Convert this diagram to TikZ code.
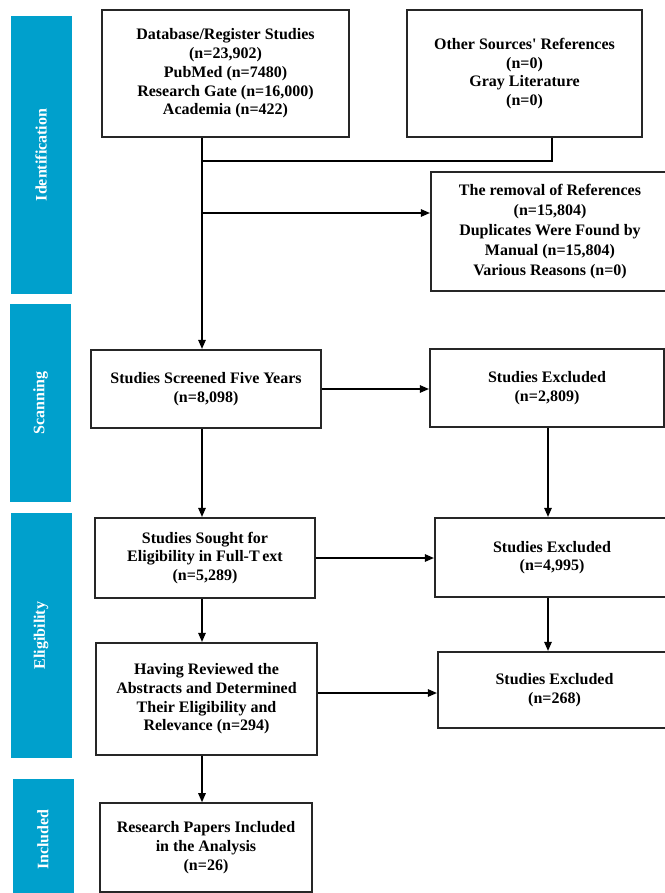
\documentclass[tikz,border=0pt]{standalone}
\usepackage{fontspec}
\setmainfont{Liberation Serif}
\usepackage{xcolor}
\usepackage{tikz}
\usetikzlibrary{arrows.meta,positioning,calc}
\definecolor{phase}{HTML}{00A0CC}
\definecolor{edge}{HTML}{262626}

\begin{document}
\begin{tikzpicture}[x=1pt, y=-1pt, >={Triangle[length=9pt,width=7.5pt]},
  box/.style={draw=edge, line width=2.2pt, fill=white, align=center, inner sep=2pt,
    font=\bfseries\fontsize{16}{18.7}\selectfont},
  phasebar/.style={fill=phase, rotate=90, minimum height=61, inner sep=0pt,
    text=white, font=\bfseries\fontsize{16}{18.7}\selectfont},
  link/.style={draw=black, line width=1.3pt}]
\useasboundingbox (0,0) rectangle (664,893);
% phase bars on the left
\foreach \cx/\cy/\len/\lab/\nm in {41/155/278/Identification/ident, 40.5/403/198/Scanning/scan,
  41/635.5/245/Eligibility/elig, 43/839.5/121/Included/incl} {
  \node[phasebar, minimum width=\len] (\nm) at (\cx,\cy) {\lab};
}
% identification
\node[box, minimum width=247, minimum height=127] (db) at (225.5,73.5)
  {Database/Register Studies\\(n=23,902)\\PubMed (n=7480)\\Research Gate (n=16,000)\\Academia (n=422)};
\node[box, minimum width=235, minimum height=127] (other) at (524.5,73.5)
  {Other Sources\textquotesingle{} References\\(n=0)\\Gray Literature\\(n=0)};
\node[box, minimum width=238, minimum height=119, font=\bfseries\fontsize{16}{20.2}\selectfont] (removal) at (550,231.5)
  {The removal of References\\(n=15,804)\\Duplicates Were Found by\\Manual (n=15,804)\\Various Reasons (n=0)};
% main column
\node[box, minimum width=230, minimum height=78] (screened) at (206,389)
  {Studies Screened Five Years\\(n=8,098)};
\node[box, minimum width=220, minimum height=80] (sought) at (205,558)
  {Studies Sought for\\Eligibility in Full-T\,ext\\(n=5,289)};
\node[box, minimum width=221, minimum height=112] (having) at (206.5,699)
  {Having Reviewed the\\Abstracts and Determined\\Their Eligibility and\\Relevance (n=294)};
\node[box, minimum width=212, minimum height=89, line width=1.6pt] (papers) at (206,847.5)
  {Research Papers Included\\in the Analysis\\(n=26)};
% excluded column
\node[box, minimum width=234, minimum height=78] (excl1) at (547,388)
  {Studies Excluded\\(n=2,809)};
\node[box, minimum width=234, minimum height=79] (excl2) at (552,557.5)
  {Studies Excluded\\(n=4,995)};
\node[box, minimum width=233, minimum height=76] (excl3) at (554.5,690)
  {Studies Excluded\\(n=268)};
% connectors
\coordinate (trunk) at (202,0);
\coordinate (join) at (552,161);
\coordinate (split) at (202,213);
\coordinate (rcol) at (548,0);
\draw[link, line width=2.2pt] (join |- other.south) -- (join) -- (trunk |- join);
\draw[link, ->] (trunk |- db.south) -- (trunk |- screened.north);
\draw[link, ->] (split) -- (split -| removal.west);
\draw[link, ->] (trunk |- screened.south) -- (trunk |- sought.north);
\draw[link, ->] (trunk |- sought.south) -- (trunk |- having.north);
\draw[link, ->] (trunk |- having.south) -- (trunk |- papers.north);
\draw[link, ->] (screened.east) -- (screened.east -| excl1.west);
\draw[link, ->] (sought.east) -- (sought.east -| excl2.west);
\draw[link, ->] ([yshift=6pt]having.east) -- ([yshift=6pt]having.east -| excl3.west);
\draw[link, ->] (rcol |- excl1.south) -- (rcol |- excl2.north);
\draw[link, ->] (rcol |- excl2.south) -- (rcol |- excl3.north);
\end{tikzpicture}
\end{document}
